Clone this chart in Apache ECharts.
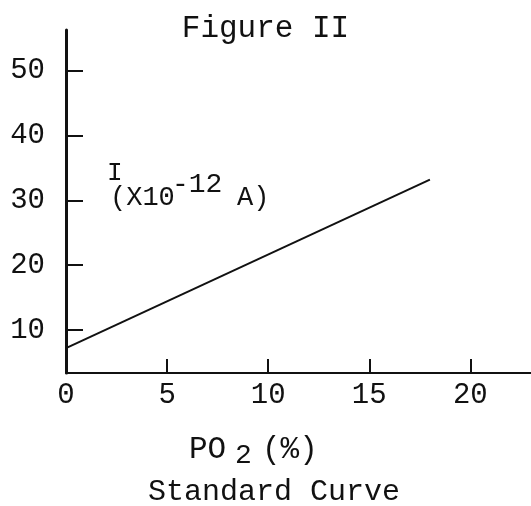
<!DOCTYPE html>
<html>
<head>
<meta charset="utf-8">
<title>Figure II</title>
<script src="https://cdn.jsdelivr.net/npm/echarts@6/dist/echarts.min.js"></script>
<style>
html,body{margin:0;padding:0;background:#fff}
#main{width:531px;height:506px}
</style>
</head>
<body>
<div id="main"></div>
<script>
// standard curve
var po2 = [0, 18];          // PO2 (%)
var current = [7.2, 33.2];  // I (x10^-12 A)
var xTicks = [0, 5, 10, 15, 20];
var yTicks = [10, 20, 30, 40, 50];

var ink = '#111';
var mono = '"Liberation Mono", "DejaVu Sans Mono", monospace';

var pts = [];
for (var i = 0; i < po2.length; i++) {
    pts.push([po2[i], current[i]]);
}

var chart = echarts.init(document.getElementById('main'));
var option = {
    backgroundColor: '#fff',
    animation: false,
    title: [
        {
            text: 'Figure II',
            left: 'center',
            top: 8,
            textStyle: {fontFamily: mono, fontSize: 31, fontWeight: 'normal', color: ink}
        },
        {
            text: 'Standard Curve',
            left: 143,
            top: 472,
            textStyle: {fontFamily: mono, fontSize: 30, fontWeight: 'normal', color: ink}
        }
    ],
    grid: {left: 66, right: 0, top: 30, bottom: 133},
    xAxis: {
        type: 'value',
        min: 0,
        max: 23,
        splitLine: {show: false},
        axisLine: {lineStyle: {color: ink, width: 2}},
        axisTick: {
            inside: true,
            length: 14,
            customValues: xTicks.slice(1),
            lineStyle: {color: ink, width: 2}
        },
        axisLabel: {
            customValues: xTicks,
            margin: 8,
            fontFamily: mono,
            fontSize: 29,
            color: ink
        }
    },
    yAxis: {
        type: 'value',
        min: 3.36,
        max: 56.3,
        splitLine: {show: false},
        axisLine: {onZero: false, lineStyle: {color: ink, width: 3}},
        axisTick: {
            inside: true,
            length: 17,
            customValues: yTicks,
            lineStyle: {color: ink, width: 2}
        },
        axisLabel: {
            customValues: yTicks,
            margin: 21,
            fontFamily: mono,
            fontSize: 29,
            color: ink
        }
    },
    series: [
        {
            type: 'line',
            data: pts,
            symbol: 'none',
            lineStyle: {color: ink, width: 2}
        }
    ],
    graphic: [
        {type: 'text', left: 107, top: 160, style: {text: 'I', font: '26px ' + mono, fill: ink}},
        {type: 'text', left: 110, top: 184, style: {text: '(X10', font: '27px ' + mono, fill: ink}},
        {type: 'text', left: 172, top: 171, style: {text: '-12', font: '28px ' + mono, fill: ink}},
        {type: 'text', left: 237, top: 184, style: {text: 'A)', font: '27px ' + mono, fill: ink}},
        {type: 'text', left: 189, top: 434, style: {text: 'PO', font: '31px ' + mono, fill: ink}},
        {type: 'text', left: 235, top: 442, style: {text: '2', font: '28px ' + mono, fill: ink}},
        {type: 'text', left: 262, top: 434, style: {text: '(%)', font: '31px ' + mono, fill: ink}}
    ]
};
chart.setOption(option);
</script>
</body>
</html>
